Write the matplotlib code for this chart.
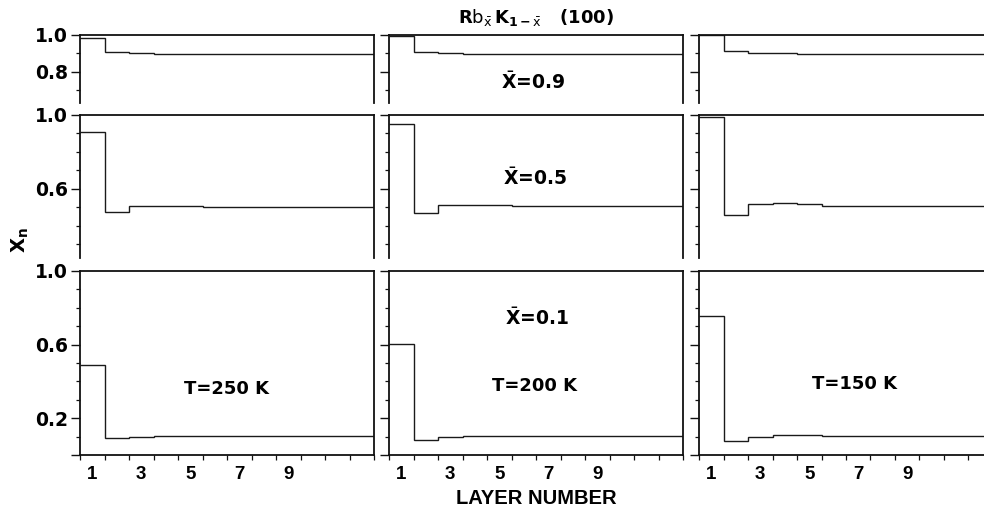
import numpy as np
import matplotlib
matplotlib.use("Agg")
import matplotlib.pyplot as plt
from matplotlib.ticker import FixedLocator, NullFormatter

plt.rcParams['font.family'] = ['DejaVu Sans']
plt.rcParams['mathtext.fontset'] = 'dejavusans'

# ---- data ----
layers = np.arange(1, 13)
temps = ["T=250 K", "T=200 K", "T=150 K"]
xbar_labels = ["0.9", "0.5", "0.1"]

x09_T250 = [0.985, 0.907, 0.902, 0.898, 0.898, 0.898, 0.898, 0.898, 0.898, 0.898, 0.898, 0.898]
x09_T200 = [0.995, 0.906, 0.900, 0.897, 0.896, 0.896, 0.896, 0.896, 0.896, 0.896, 0.896, 0.896]
x09_T150 = [0.998, 0.912, 0.903, 0.900, 0.899, 0.899, 0.899, 0.899, 0.899, 0.899, 0.899, 0.899]

x05_T250 = [0.910, 0.473, 0.506, 0.508, 0.505, 0.503, 0.502, 0.502, 0.502, 0.502, 0.502, 0.502]
x05_T200 = [0.950, 0.467, 0.510, 0.514, 0.510, 0.506, 0.505, 0.505, 0.505, 0.505, 0.505, 0.505]
x05_T150 = [0.990, 0.456, 0.520, 0.525, 0.516, 0.508, 0.507, 0.507, 0.507, 0.507, 0.507, 0.507]

x01_T250 = [0.490, 0.093, 0.100, 0.103, 0.104, 0.104, 0.104, 0.105, 0.105, 0.105, 0.106, 0.106]
x01_T200 = [0.605, 0.085, 0.100, 0.104, 0.106, 0.105, 0.104, 0.104, 0.104, 0.104, 0.104, 0.104]
x01_T150 = [0.755, 0.078, 0.100, 0.107, 0.109, 0.104, 0.104, 0.104, 0.104, 0.104, 0.104, 0.104]

rows = [
    [x09_T250, x09_T200, x09_T150],
    [x05_T250, x05_T200, x05_T150],
    [x01_T250, x01_T200, x01_T150],
]
row_ylim = [(0.63, 1.0), (0.225, 1.0), (0.0, 1.0)]
row_major = [[0.8, 1.0], [0.6, 1.0], [0.0, 0.2, 0.6, 1.0]]
row_major_labels = [["0.8", "1.0"], ["0.6", "1.0"], ["", "0.2", "0.6", "1.0"]]
row_minor = [[0.7, 0.9], [0.3, 0.4, 0.5, 0.7, 0.8, 0.9], [0.1, 0.3, 0.4, 0.5, 0.7, 0.8, 0.9]]
xtick_labels = ["1", "3", "5", "7", "9"]
xtick_pos = [1, 3, 5, 7, 9]

# ---- layout (pixels) ----
W, H = 984, 514
fig = plt.figure(figsize=(W / 100, H / 100), dpi=100)

col_left = [80, 389, 699]
col_w = 294
row_top = [35, 115, 270.7]
ppu = 184.5  # pixels per unit of X_n

narrow = ['Liberation Sans Narrow', 'Liberation Sans', 'DejaVu Sans']
edges = np.append(layers - 0.5, layers[-1] + 0.5)

for r in range(3):
    lo, hi = row_ylim[r]
    h = (hi - lo) * ppu
    for c in range(3):
        rect = [col_left[c] / W, 1 - (row_top[r] + h) / H, col_w / W, h / H]
        ax = fig.add_axes(rect)
        ax.stairs(rows[r][c], edges, baseline=None, color='#1a1a1a', lw=1.0)
        ax.set_xlim(edges[0], edges[-1])
        ax.set_ylim(lo, hi)
        for s in ['left', 'right', 'top']:
            ax.spines[s].set_linewidth(1.3)
            ax.spines[s].set_color('#111111')
        ax.spines['bottom'].set_visible(r == 2)
        ax.spines['bottom'].set_linewidth(1.3)
        ax.spines['bottom'].set_color('#111111')
        # y ticks
        ax.yaxis.set_major_locator(FixedLocator(row_major[r]))
        ax.yaxis.set_minor_locator(FixedLocator(row_minor[r]))
        ax.tick_params(axis='y', which='major', direction='out', length=6.5, width=1.0,
                       color='#111111', right=False, pad=2)
        ax.tick_params(axis='y', which='minor', direction='out', length=3.0, width=0.9,
                       color='#111111', right=False)
        if c == 0:
            ax.set_yticklabels(row_major_labels[r], fontsize=13.5, fontweight='bold')
        else:
            ax.yaxis.set_major_formatter(NullFormatter())
        # x ticks
        if r == 2:
            ax.xaxis.set_major_locator(FixedLocator(xtick_pos))
            ax.set_xticklabels(xtick_labels, fontsize=13.5, fontweight='bold', family=narrow)
            ax.xaxis.set_minor_locator(FixedLocator(list(edges)))
            ax.tick_params(axis='x', which='major', length=0, pad=8)
            ax.tick_params(axis='x', which='minor', direction='out', length=3.5, width=0.9,
                           color='#111111', top=False)
        else:
            ax.set_xticks([])
            ax.tick_params(axis='x', which='both', bottom=False, top=False)


def px(x, y):
    return x / W, 1 - y / H


def ftext(x, y, s, size=13, **kw):
    fig.text(*px(x, y), s, ha='center', va='center', fontsize=size, fontweight='bold', **kw)


ftext(536, 17, r'$\mathbf{R}\mathrm{b}_{\bar{\mathrm{x}}}\,\mathbf{K}_{\mathbf{1-}\bar{\mathrm{x}}}$   (100)', size=13)
ftext(533, 82, r'$\bar{\mathbf{X}}$=' + xbar_labels[0], size=13.5)
ftext(535, 178, r'$\bar{\mathbf{X}}$=' + xbar_labels[1], size=13.5)
ftext(537, 318, r'$\bar{\mathbf{X}}$=' + xbar_labels[2], size=13.5)
ftext(226, 389, temps[0], size=13)
ftext(535, 386, temps[1], size=13)
ftext(855, 384, temps[2], size=13)
ftext(536, 499, "LAYER NUMBER", size=14.5, family=narrow)
fig.text(*px(20, 240), r'$\mathbf{X_n}$', ha='center', va='center', rotation=90, fontsize=14)

fig.savefig("out.png", dpi=100, facecolor='white')
